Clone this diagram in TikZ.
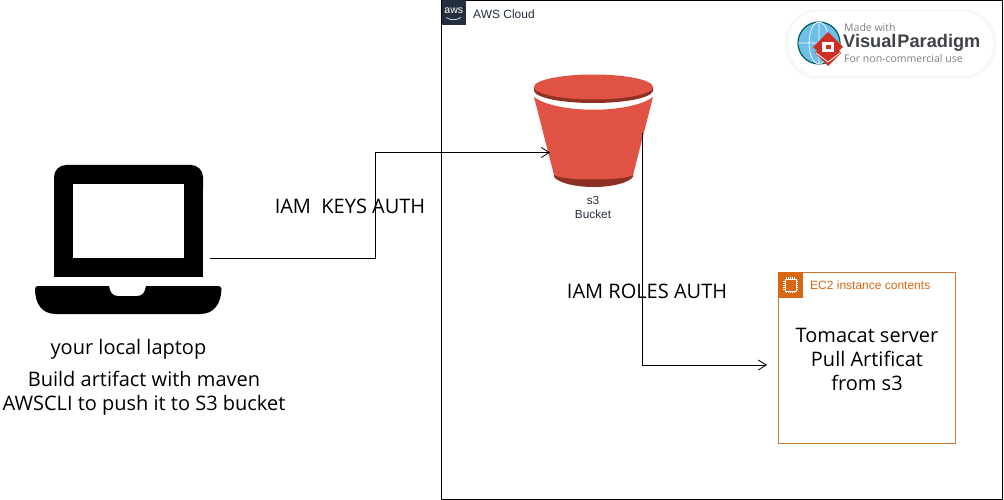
\documentclass[tikz,border=0pt]{standalone}
\usepackage{fontspec}
\setmainfont{Open Sans}
\newfontfamily\awsfont{Liberation Sans}
\usetikzlibrary{arrows.meta}
\definecolor{awsdark}{HTML}{232F3E}
\definecolor{ecorange}{HTML}{D86613}
\definecolor{ecline}{HTML}{C9762E}
\definecolor{bucketred}{HTML}{E05243}
\definecolor{bucketdark}{HTML}{8C3123}
\definecolor{vpgrey}{HTML}{3F4347}
\definecolor{vpblue}{HTML}{6DBFEA}
\definecolor{vpred}{HTML}{CF2E23}
\tikzset{
  label text/.style={font=\fontsize{20}{24}\selectfont,align=center,text=black,inner sep=0pt},
  aws text/.style={font=\awsfont\fontsize{12}{14}\selectfont,anchor=west,inner sep=0pt},
  flow/.style={draw=black,line width=0.8pt,-{Straight Barb[length=8pt,width=10pt,line width=0.8pt]}},
}
\begin{document}
\begin{tikzpicture}[x=1pt,y=-1pt]
\useasboundingbox (0,0) rectangle (1004,500);
\fill[white] (0,0) rectangle (1004,500);
% AWS cloud group
\draw[black,line width=1pt] (441.5,0.5) rectangle (1002,499);
\fill[awsdark] (441.5,0) rectangle (466,25);
\node[font=\awsfont\fontsize{10.5}{10}\selectfont,text=white,inner sep=0pt] (awslogo) at (453.8,10.5) {aws};
\draw[white,line width=0.6pt] (446,17.5) .. controls (451,20.5) and (456,20.5) .. (461,17.5);
\node[aws text,text=awsdark] (cloudlabel) at (473,14) {AWS Cloud};
% watermark
\fill[black!3,rounded corners=34pt] (785,9) rectangle (996,79);
\fill[white,rounded corners=32pt] (788,11) rectangle (993,76);
\fill[vpblue] (819,43) circle (21pt);
\draw[teal!70!black,line width=1.2pt] (819,43) circle (21pt);
\draw[white,line width=0.7pt] (819,22) -- (819,64) (798,43) -- (840,43) (819,43) ellipse (10pt and 21pt);
\fill[vpred] (828,39) -- (841,53) -- (828,66) -- (815,53) -- cycle;
\fill[vpred] (828,32) -- (843,47) -- (828,61) -- (813,47) -- cycle;
\draw[white,line width=0.8pt] (816,53) -- (828,62) -- (840,53);
\fill[white] (822,42) rectangle (834,52);
\fill[vpred] (826,45) rectangle (831,49);
\node[font=\fontsize{10.5}{10.5}\selectfont,text=gray,anchor=west,inner sep=0pt] (vp1) at (844,28) {Made with};
\node[font=\awsfont\bfseries\fontsize{18.2}{19}\selectfont,text=vpgrey,anchor=west,inner sep=0pt] (vp2) at (843,43) {Visual\kern1pt Paradigm};
\node[font=\fontsize{10.5}{10.5}\selectfont,text=gray,anchor=west,inner sep=0pt] (vp3) at (844,59) {For non-commercial use};
% laptop
\fill[black,rounded corners=12pt] (54,200) -- (54,165) -- (203,165) -- (203,200) -- cycle;
\fill[black] (54,185) rectangle (203,277);
\fill[white] (72.7,184) rectangle (184,258);
\fill[black] (38,286) -- (109,286) .. controls (110,293) and (113,296) .. (118,296)
  -- (137,296) .. controls (142,296) and (145,293) .. (146,286) -- (218,286)
  .. controls (220,286) and (221.5,287) .. (221.5,289)
  .. controls (221,304) and (214,314) .. (200,314) -- (56,314)
  .. controls (42,314) and (35,304) .. (35,289) .. controls (35,287) and (36,286) .. (38,286) -- cycle;
\coordinate (laptop) at (210,258.5);
\node[label text] (laptoplabel) at (128.5,349) {your local laptop};
\node[label text] (build) at (144,393) {Build artifact with maven\\AWSCLI to push it to S3 bucket};
% bucket
\fill[bucketdark] (554,170) -- (554,177) .. controls (559,183) and (575,187) .. (593.5,187)
  .. controls (612,187) and (628,183) .. (633,177) -- (633,170) -- cycle;
\fill[bucketred] (534,97) -- (554,175) .. controls (562,181) and (625,181) .. (633,175) -- (653,97)
  .. controls (630,114) and (557,114) .. (534,97) -- cycle;
\fill[bucketdark] (534,87) -- (534,91) .. controls (536,98) and (562,103) .. (593.5,103)
  .. controls (625,103) and (651,98) .. (653,91) -- (653,87) -- cycle;
\fill[bucketred] (593.5,87) ellipse (59.5pt and 12.5pt);
\coordinate (bucketin) at (550,152.5);
\coordinate (bucketout) at (642,133);
\node[font=\awsfont\fontsize{11.8}{14}\selectfont,align=center,text=awsdark,inner sep=0pt] (bucketlabel) at (593,207.5) {s3\\Bucket};
% EC2 box
\draw[ecline,line width=1pt] (778.5,272.5) rectangle (955.5,443);
\fill[ecorange] (778,272) rectangle (803,298);
\foreach \i in {786.5,788.5,790.5,792.5,794.5}{\draw[white,line width=0.4pt] (\i,277) -- (\i,293);}
\foreach \j in {281,283,285,287,289}{\draw[white,line width=0.4pt] (783,\j) -- (798,\j);}
\fill[ecorange] (785,279) rectangle (796,291);
\draw[white,line width=0.9pt] (785,279) rectangle (796,291);
\node[aws text,text=ecorange] (eclabel) at (810,285.5) {EC2 instance contents};
\node[label text] (tomcat) at (867,359.5) {Tomacat server\\Pull Artificat\\from s3};
\coordinate (ecin) at (767,365);
% connectors
\draw[flow] (laptop) -- (375,258.5) -- (375,152.5) -- (bucketin);
\draw[flow] (bucketout) -- (642,365) -- (ecin);
% edge labels
\node[label text] (iamkeys) at (350,206.5) {IAM\ \ KEYS AUTH};
\node[label text] (iamroles) at (647,291.5) {IAM ROLES AUTH};
\end{tikzpicture}
\end{document}
